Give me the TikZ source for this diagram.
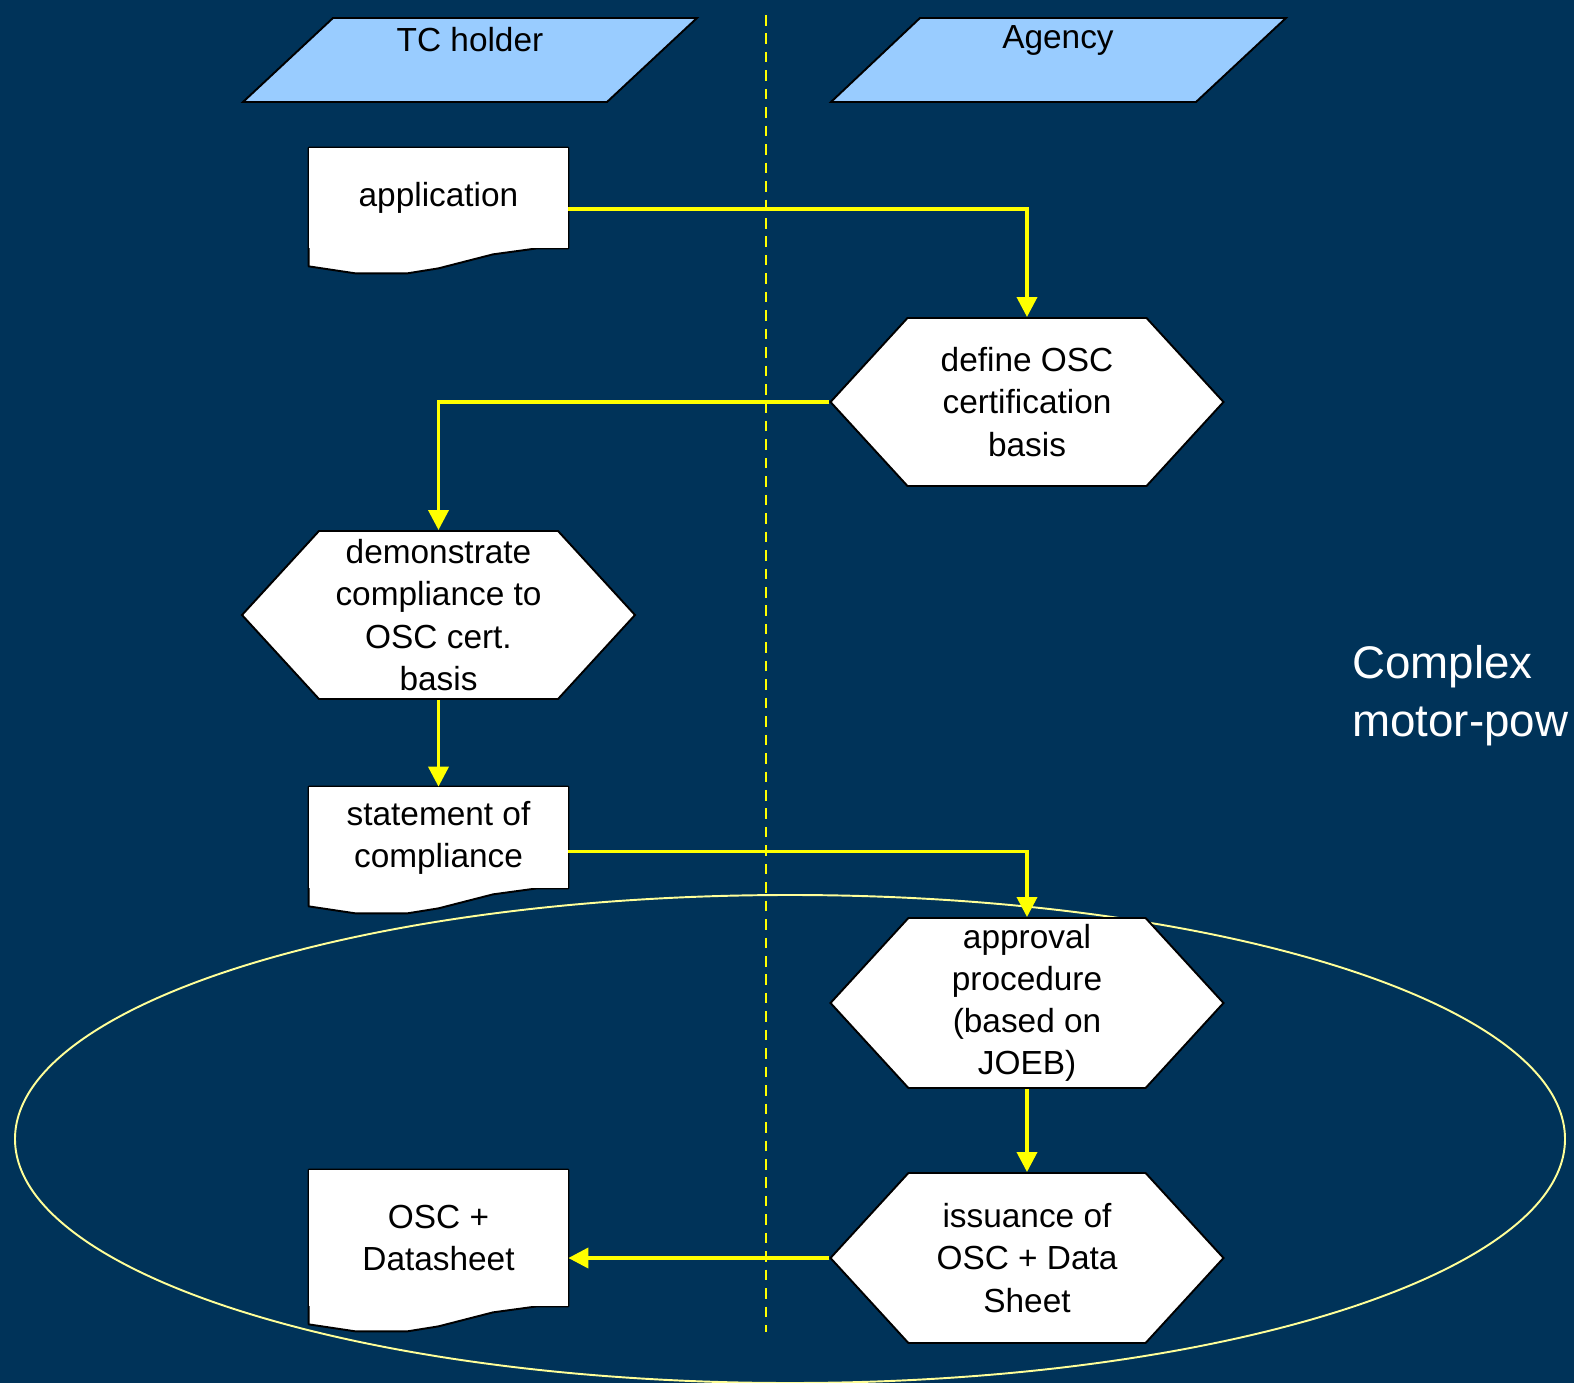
\documentclass[tikz,border=0pt]{standalone}
\usepackage{fontspec}
\setmainfont{Liberation Sans}
\usepackage{tikz}
\usetikzlibrary{arrows.meta,shapes.symbols,calc}
\definecolor{slidebg}{RGB}{0,51,89}
\definecolor{lanefill}{RGB}{153,204,255}
\definecolor{flowyellow}{RGB}{255,255,0}
\definecolor{ringyellow}{RGB}{255,255,153}
\newcommand{\boxfont}{\fontsize{19}{24}\selectfont}
\newcommand{\docwave}[1]{%
  \fill[white] ([yshift=2pt]#1.south east) -- ($(#1.south west)!0.88!(#1.south east)$)
    -- ($(#1.south west)!0.71!(#1.south east)+(0,-0.12)$) -- ($(#1.south west)!0.5!(#1.south east)+(0,-0.4)$)
    -- ($(#1.south west)!0.38!(#1.south east)+(0,-0.5)$) -- ($(#1.south west)!0.18!(#1.south east)+(0,-0.5)$)
    -- ($(#1.south west)+(0,-0.36)$) -- ([yshift=2pt]#1.south west) -- cycle;
  \draw[line width=1.1pt, line join=round] ($(#1.south west)+(0,-0.36)$) -- (#1.north west) -- (#1.north east) -- (#1.south east)
    -- ($(#1.south west)!0.88!(#1.south east)$) -- ($(#1.south west)!0.71!(#1.south east)+(0,-0.12)$)
    -- ($(#1.south west)!0.5!(#1.south east)+(0,-0.4)$) -- ($(#1.south west)!0.38!(#1.south east)+(0,-0.5)$)
    -- ($(#1.south west)!0.18!(#1.south east)+(0,-0.5)$) -- cycle;}
\tikzstyle{arrow} = [line width=2.1pt, color=flowyellow, -{Triangle[length=0.4cm, width=0.4cm]}]
\tikzstyle{lane} = [draw=black, line width=1.1pt, fill=lanefill]
\tikzstyle{stepbox} = [signal, signal to=east and west, signal pointer angle=95, minimum width=7.86cm, minimum height=3.36cm, inner sep=0pt, align=center, font=\boxfont, draw=black, line width=1.1pt, fill=white]
\tikzstyle{docbox} = [rectangle, minimum width=5.18cm, minimum height=2cm, align=center, font=\boxfont, fill=white, append after command={\pgfextra{\docwave{\tikzlastnode}}}]

\begin{document}
\begin{tikzpicture}
    \useasboundingbox (0,0) rectangle (31.48,-27.66);
    \fill[slidebg] (0,0) rectangle (31.48,-27.66);

    % Lanes
    \draw[lane] (4.86,-2.04) -- (6.66,-0.36) -- (13.94,-0.36) -- (12.14,-2.04) -- cycle;
    \node[font=\boxfont] (holder) at (9.4,-0.8) {TC holder};
    \draw[lane] (16.62,-2.04) -- (18.4,-0.36) -- (25.72,-0.36) -- (23.92,-2.04) -- cycle;
    \node[font=\boxfont] (agency) at (21.16,-0.8) {Agency};
    \coordinate (divtop) at (15.32,-0.3);
    \coordinate (divbot) at (15.32,-26.64);

    % Scope of the process
    \draw[ringyellow, line width=1.1pt] (15.8,-22.78) ellipse [x radius=15.5cm, y radius=4.88cm];
    \draw[flowyellow, line width=1.1pt, dash pattern=on 6pt off 4.5pt] (divtop) -- (divbot);
    \node[font=\fontsize{26}{33}\selectfont, text=white, align=left, anchor=west] (complex) at (26.92,-13.92) {Complex\\motor-pow};

    % TC holder side
    \node[docbox] (application) at (8.77,-3.96) {application};
    \node[stepbox] (demonstrate) at (8.77,-12.3) {demonstrate\\compliance to\\OSC cert.\\basis};
    \node[docbox, minimum height=2.02cm] (statement) at (8.77,-16.75) {statement of\\compliance};
    \node[docbox, minimum height=2.72cm] (oscsheet) at (8.77,-24.76) {OSC +\\Datasheet};

    % Agency side
    \node[stepbox] (define) at (20.54,-8.04) {define OSC\\certification\\basis};
    \node[stepbox, minimum height=3.4cm] (approval) at (20.54,-20.06) {approval\\procedure\\(based on\\JOEB)};
    \node[stepbox, minimum height=3.4cm] (issuance) at (20.54,-25.16) {issuance of\\OSC + Data\\Sheet};

    % Connections
    \draw[arrow] ([yshift=-0.22cm]application.east) -| (define.north);
    \draw[arrow] (define.west) -| (demonstrate.north);
    \draw[arrow] (demonstrate.south) -- (statement.north);
    \draw[arrow] ([yshift=-0.28cm]statement.east) -| (approval.north);
    \draw[arrow] (approval.south) -- (issuance.north);
    \draw[arrow] (issuance.west) -- (issuance.west -| oscsheet.east);
\end{tikzpicture}
\end{document}
